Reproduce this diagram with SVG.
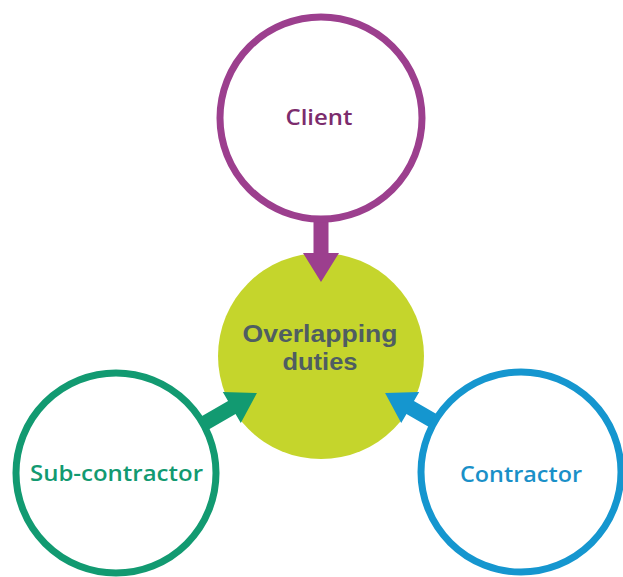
<svg xmlns="http://www.w3.org/2000/svg" width="623" height="577" viewBox="0 0 623 577">
<style>
.ring{fill:#ffffff;stroke-width:7}
.lbl{font-family:"Open Sans","Liberation Sans",sans-serif;font-weight:600;font-size:21px;text-anchor:middle}
.ctr{font-family:"Liberation Sans",Arial,sans-serif;font-weight:700;font-size:23px;text-anchor:middle;fill:#4f5d62}
</style>
<defs>
<path id="arr" d="M74,0 L103,-18 L103,-7.5 L140,-7.5 L140,7.5 L103,7.5 L103,18 Z"/>
</defs>
<g id="overlapping">
<circle cx="321" cy="356" r="103" fill="#c5d52c"/>
<text class="ctr" x="320" y="342" textLength="155" lengthAdjust="spacingAndGlyphs">Overlapping</text>
<text class="ctr" x="320" y="370" textLength="75" lengthAdjust="spacingAndGlyphs">duties</text>
</g>
<g id="connectors">
<use href="#arr" transform="translate(321,356) rotate(-90)" fill="#9c3f8e"/>
<use href="#arr" transform="translate(321,356) rotate(150)" fill="#129a71"/>
<use href="#arr" transform="translate(321,356) rotate(30)" fill="#1596cf"/>
</g>
<g id="client">
<circle class="ring" cx="321" cy="118" r="101" stroke="#9c3f8e"/>
<text class="lbl" x="319" y="125" fill="#7c2c6d" textLength="67" lengthAdjust="spacingAndGlyphs">Client</text>
</g>
<g id="subcontractor">
<circle class="ring" cx="116" cy="473" r="100" stroke="#129a71"/>
<text class="lbl" x="116.5" y="481" fill="#129a71" textLength="173" lengthAdjust="spacingAndGlyphs">Sub-contractor</text>
</g>
<g id="contractor">
<circle class="ring" cx="521" cy="472" r="100" stroke="#1596cf"/>
<text class="lbl" x="521" y="482" fill="#1a90c8" textLength="122" lengthAdjust="spacingAndGlyphs">Contractor</text>
</g>
</svg>
